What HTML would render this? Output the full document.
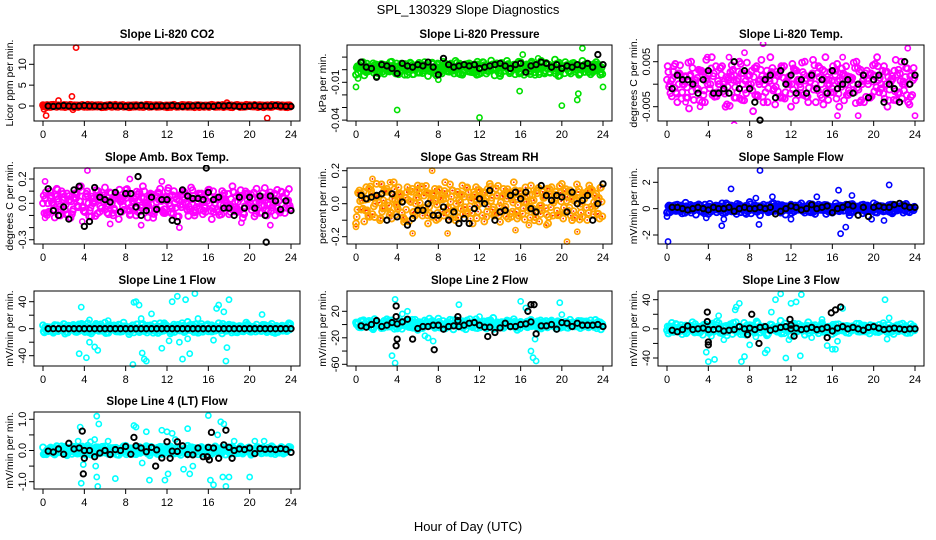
<!DOCTYPE html>
<html><head><meta charset="utf-8"><title>SPL_130329 Slope Diagnostics</title>
<style>
html,body{margin:0;padding:0;background:#fff;}
svg{display:block;font-family:"Liberation Sans",Arial,sans-serif;}
</style></head>
<body>
<svg id="chart" width="936" height="540" viewBox="0 0 936 540" xmlns="http://www.w3.org/2000/svg">
<text x="468" y="14" text-anchor="middle" font-size="13">SPL_130329  Slope Diagnostics</text>
<text x="468" y="531" text-anchor="middle" font-size="13">Hour of Day (UTC)</text>
</svg>
<script>
// ---- data ----
const xTicks = [0,4,8,12,16,20,24];
const titles = ["Slope Li-820 CO2","Slope Li-820 Pressure","Slope Li-820 Temp.","Slope Amb. Box Temp.","Slope Gas Stream RH","Slope Sample Flow","Slope Line 1 Flow","Slope Line 2 Flow","Slope Line 3 Flow","Slope Line 4 (LT) Flow"];
const yTitles = ["Licor ppm per min.","kPa per min.","degrees C per min.","degrees C per min.","percent per min.","mV/min per min.","mV/min per min.","mV/min per min.","mV/min per min.","mV/min per min."];

const cCO2 = [0.2,-0.3,0.1,0.3,-0.2,0,0.2,-0.1,0.3,-0.3,0.1,0,-0.2,0.3,0.1,-0.1,0.2,-0.3,0,0.1,-0.2,0.3,-0.1,0.2,0,-0.3,0.1,0.2,-0.2,0,0.3,-0.1,0.1,-0.2,0.2,0,-0.3,0.1,0.3,-0.1,0,0.2,-0.2,0.1,-0.3,0.2,0,0.1,-0.1,0.3,-0.2,0,0.2,-0.1,0.1,-0.3,0.2,0,-0.2,0.3,0.1,-0.1,0,0.2,-0.3,0.1,-0.1,0.2,0,-0.2,0.1,-0.3];
const kCO2 = [0,-0.1,0,0.1,0,-0.1,0,0.1,0,0,-0.1,0,0.1,0,0,-0.1,0,0,0.1,0,-0.1,0,0,0,0.1,0,-0.1,0,0,0.1,0,0,-0.1,0.1,0,0.1,0,-0.1,-0.1,0,0.1,-0.1,0,0,0.1,0,-0.1,-0.1];
const oCO2 = [0.1,-0.8, 0.3,-2.3, 1.5,1.3, 2.8,2.3, 2.9,-0.9, 3.2,14, 17.8,0.8, 21.7,-2.9, 1.2,0.3];

const cPres = [-0.004,0.003,0.006,-0.002,0.001,0.005,-0.005,0.002,0.004,-0.001,0.006,0,-0.003,0.004,0.002,-0.004,0.005,0.001,-0.002,0.003,0.006,-0.005,0.002,0,0.004,-0.003,0.005,0.001,-0.001,0.007,0.003,-0.004,0.002,0.005,-0.002,0.004,0,0.006,-0.003,0.003,0.001,0.005,-0.005,0.002,0.007,-0.001,0.004,0,0.006,-0.004,0.003,0.005,-0.002,0.001,0.007,-0.003,0.004,0.002,0.008,-0.005,0.003,0.006,-0.001,0.005,0.002,-0.004,0.007,0.001,0.004,-0.002,0.006,0.003];
const kPres = [0.006,0.002,0.001,-0.006,0.004,0.003,0.001,-0.003,0.005,0.003,0.002,0.004,0.003,0.006,0.002,-0.004,0.009,0.004,0.002,0.003,0.004,0.003,0.004,0.001,0.002,0.003,0.004,0.005,0.003,0.001,0.004,0.005,-0.002,0.003,0.004,0.006,0.005,0.002,0.004,0.001,0.003,0.002,0.004,0.003,0.005,0.002,0.012,0.004];
const oPres = [0,-0.0137, 4,-0.032, 12,-0.038, 20,-0.0285, 22,0.017, 24,-0.0137, 15.9,-0.017, 21.5,-0.024, 21.6,-0.019, 0.2,-0.007, 8,-0.008, 16.2,0.012, 17.7,0.009, 5.5,-0.004];

const cTemp = [0.001,-0.002,0.004,-0.004,0.002,0,-0.003,0.005,0.001,-0.001,0.003,-0.004,0.002,0.006,-0.002,0,0.004,-0.005,0.001,0.003,-0.003,0.005,0,-0.002,0.002,-0.006,0.004,0.001,-0.004,0.003,0.006,-0.001,0.002,-0.003,0.004,0,-0.005,0.003,0.001,-0.002,0.005,-0.004,0.002,0,0.004,-0.003,0.006,0.001,-0.001,0.003,-0.005,0.002,0.004,-0.002,0,0.005,-0.004,0.001,0.003,-0.003,0.002,0.006,-0.001,0.004,-0.005,0.001,0.003,-0.002,0.005,0,-0.004,0.002];
const kTemp = [-0.001,0.002,0.001,0.001,0.000,-0.002,0.001,0.003,-0.002,-0.002,-0.001,-0.002,0.005,-0.001,0.003,-0.001,-0.004,-0.008,0.001,0.002,-0.003,0.003,0.000,0.002,-0.002,0.001,-0.002,0.002,-0.001,0.001,-0.002,0.003,-0.001,0.000,0.001,-0.002,0.000,0.002,-0.003,0.001,0.002,-0.004,0.000,-0.001,-0.004,0.005,0.000,0.002];
const oTemp = [9.3,0.009, 7.5,0.007, 6.5,-0.009, 17,0.006, 23.3,0.008, 16.5,-0.007, 24,-0.007, 18.5,-0.007, 3.2,-0.005, 1.8,-0.004, 3.9,0.006, 6,0.006];

const cAmb = [0.0,-0.08,0.1,-0.05,0.12,-0.1,0.03,0.08,-0.12,0.05,-0.02,0.14,-0.07,0.06,-0.11,0.02,0.1,-0.04,0.13,-0.09,0.0,0.07,-0.13,0.04,0.11,-0.06,0.02,-0.1,0.09,0.14,-0.03,0.06,-0.12,0.01,0.12,-0.08,0.05,-0.02,0.1,-0.11,0.07,0.03,-0.06,0.13,-0.1,0.0,0.08,-0.04,0.11,-0.13,0.04,-0.07,0.1,0.02,-0.09,0.14,-0.05,0.06,-0.12,0.08,0.01,-0.03,0.12,-0.08,0.05,-0.1,0.09,0.0,0.11,-0.06,0.04,-0.02];
const kAmb = [0.12,-0.06,-0.1,-0.03,-0.13,0.11,0.14,-0.19,-0.15,0.13,0.05,0.03,0.01,0.09,-0.07,0.08,0.08,-0.03,-0.1,-0.06,0.05,-0.05,0.03,0.03,-0.14,-0.15,0.11,0.06,0.04,0.04,0.03,0.09,0.03,0.05,-0.04,-0.04,-0.1,0.05,-0.04,0.05,-0.04,0.06,-0.1,0.06,0.02,-0.05,0.02,-0.06];
const oAmb = [4.3,0.27, 0.2,0.18, 0.2,-0.12, 8.4,0.2, 13.2,-0.2, 9.5,-0.18, 3.8,-0.15, 22,-0.18, 19.2,-0.16, 11.5,0.18, 6.5,-0.17];
const okAmb = [15.8,0.29, 21.6,-0.32, 9.2,0.22];

const cRH = [-0.12,0.08,-0.03,0.1,-0.08,0.04,0.12,-0.1,0.02,0.09,-0.05,0.13,-0.02,0.06,-0.11,0.1,0.01,-0.07,0.11,-0.04,0.07,-0.12,0.03,0.09,-0.09,0.05,0.13,-0.03,0.08,-0.1,0.02,0.11,-0.06,0.04,-0.12,0.1,0.0,0.07,-0.08,0.12,-0.02,0.05,-0.11,0.09,0.03,-0.06,0.13,-0.09,0.06,0.01,-0.04,0.11,-0.1,0.08,-0.01,0.04,-0.12,0.1,0.02,-0.07,0.12,-0.05,0.07,-0.1,0.03,0.09,-0.08,0.05,0.11,-0.03,0.06,-0.09];
const kRH = [0.05,0.03,0.04,0.05,0.06,-0.1,0.06,-0.08,0.01,-0.13,-0.09,-0.04,-0.04,0.0,-0.07,-0.07,-0.02,-0.1,-0.05,-0.12,-0.09,-0.12,-0.03,0.03,0.0,0.08,-0.1,-0.05,-0.04,0.05,0.07,0.03,0.07,-0.03,-0.05,0.11,0.05,0.02,0.05,0.04,-0.05,0.07,0.0,0.02,0.05,-0.1,0.0,0.12];
const oRH = [7.4,0.2, 1.6,0.15, 5.5,-0.18, 8.9,-0.18, 15.5,-0.16, 16.8,-0.13, 18.5,-0.13, 20.5,-0.23, 21.5,-0.17, 2.5,0.12, 0,-0.14, 3.3,0.13];

const cSamp = [-0.3,0.2,-0.1,0.3,-0.2,0.1,0.0,-0.3,0.2,0.1,-0.2,0.3,-0.4,0.1,0.2,-0.1,0.4,-0.3,0.0,0.2,-0.2,0.3,0.1,-0.4,0.5,-0.1,0.2,-0.5,0.3,0.0,-0.2,0.4,0.1,-0.3,0.2,-0.1,0.3,-0.2,0.0,0.4,-0.3,0.1,0.2,-0.4,0.3,-0.1,0.2,0.0,-0.3,0.4,-0.2,0.1,0.3,-0.5,0.2,0.0,-0.1,0.3,-0.2,0.1,0.4,-0.3,0.2,-0.1,0.0,0.3,-0.2,0.1,0.2,-0.1,0.1,0.0];
const kSamp = [0.1,0.1,0,-0.1,0,0.1,0,-0.1,0.1,0,0,0.1,-0.2,0,0.1,0,0,0.1,0,0.1,-0.4,-0.2,0,0.2,0.1,-0.1,0,0.3,0,0.1,0.2,-0.3,0,0.1,0.3,0.2,-0.5,0.1,-0.6,0.1,0.2,0.1,0.1,0.3,0.4,0.2,0.1,0.1];
const oSamp = [0.1,-2.5, 9,2.9, 21.5,1.8, 6.2,1.5, 16.8,-1.9, 17.3,-1.4, 5.3,-1.3, 5.5,-0.8, 16.6,1.4, 8.9,-1.2, 10.2,0.9, 19.8,-0.8, 21,-0.9, 0,-0.6, 3.8,-0.7, 12,-0.8, 8.6,0.8, 14.5,0.9, 17.9,1.0];

const cL1 = [5,-3,2,-6,4,-1,7,-5,3,0,-4,6,-2,8,-7,1,5,-3,9,-6,2,-1,6,-4,3,-8,5,0,-5,7,-2,4,-6,1,8,-3,2,-7,6,-1,4,-5,10,-2,3,-6,7,0,-4,5,-3,8,-7,2,6,-1,-5,4,-2,9,-4,1,6,-3,2,-5,4,-1,3,-2,1,0];
const kL1 = [0,0,0,0,0,0,0,0,0,0,0,0,0,0,0,0,0,0,0,0,0,0,0,0,0,0,0,0,0,0,0,0,0,0,0,0,0,0,0,0,0,0,0,0,0,0,0,0];
const oL1 = [3.7,32, 3.5,-37, 4.2,-43, 4.5,-20, 5,-27, 5.3,-32, 8.7,-53, 8.8,39, 9,40, 9.3,35, 9.6,-36, 9.8,-45, 10,-48, 10.5,22, 11.5,-29, 12.5,40, 13,48, 13.2,-20, 13.5,-45, 13.8,43, 14.2,-37, 14.7,52, 15,15, 16.5,-17, 16.8,30, 17,35, 17.5,25, 17.7,-48, 17.8,-28, 18,43, 21.2,21, 4.5,13, 6.3,12, 12.2,-18, 14,-15, 9.5,15];

const cL2 = [3,-4,6,-2,1,-7,4,0,-5,8,-3,2,-6,5,-1,7,-4,3,-8,1,6,-2,4,-5,9,-1,-6,3,0,7,-3,5,-7,2,-4,8,-1,4,-6,3,10,-2,1,-5,6,-3,8,-8,4,0,-4,7,-2,5,-6,3,-1,6,-3,2,-4,4,-1,3,-2,2,-1,1,0,2,-1,0];
const kL2 = [-2,-4,0,6,-3,-1,3,1,4,8,-22,-6,-3,-3,-1,-1,-7,-3,-2,-3,-1,2,3,-1,-4,-4,-12,-5,2,-3,-3,0,1,4,-14,-2,-2,0,-7,3,2,-3,2,-1,-1,-1,0,-3];
const oL2 = [3.8,38, 3.5,-47, 3.8,-58, 5,20, 7.5,-25, 10,30, 16,35, 17,-40, 17.2,-50, 17.5,-55, 17.4,-22, 19.8,33, 20,15, 6.7,-17, 7,-20, 16.5,25, 12,12, 4.5,16];
const okL2 = [3.9,28, 3.9,12, 4,-22, 3.9,-32, 7.6,-38, 16.7,20, 17,30, 17.3,30, 12.8,-18, 9.9,12, 9.9,6];

const cL3 = [-2,3,-4,1,5,-3,0,4,-5,2,-1,6,-4,3,-2,8,-6,1,4,-7,9,-3,2,-8,5,-1,10,-5,3,-9,6,0,-4,11,-6,2,-10,7,-2,4,-8,9,-3,5,-6,8,-1,3,-7,6,-2,4,-5,3,-1,7,-4,2,-3,5,-2,1,-3,4,-1,2,-2,3,-1,1,0,1];
const kL3 = [-2,-4,-1,4,-1,0,1,-1,-1,0,-3,-2,-1,3,0,1,-1,2,3,-2,0,2,3,0,1,-1,0,2,-1,0,2,-3,1,3,0,2,0,-2,2,3,1,-1,0,1,0,-1,0,0];
const oL3 = [4,-45, 3.8,-32, 4.3,-10, 4.6,-42, 5,18, 5.5,-15, 6.7,30, 7,35, 6.6,26, 7.2,-45, 7.5,-38, 8,-22, 9.5,-33, 9.7,-29, 10.1,23, 10.5,40, 11,48, 11.5,-40, 11.8,-15, 12,35, 12.5,37, 13,47, 12.9,-37, 14,-12, 15.5,-23, 16,-28, 16.3,-28, 16.5,-17, 15,13, 17,28, 21.1,40, 21.5,15, 21.3,-14, 8.6,-11];
const okL3 = [3.9,23, 3.9,10, 4,-18, 4,-22, 8.9,-20, 11.9,13, 12,5, 7.8,-8, 12.3,-10, 15.9,22, 16.3,26, 16.8,30, 15.5,-12, 8.2,20];

const cL4 = [0.1,-0.12,0.05,-0.08,0.14,-0.03,0.09,-0.15,0.02,0.12,-0.1,0.06,-0.05,0.15,-0.13,0.03,0.1,-0.07,0.13,-0.11,0.0,0.08,-0.14,0.05,0.15,-0.09,0.02,-0.12,0.11,-0.04,0.14,-0.15,0.07,-0.02,0.12,-0.1,0.04,0.13,-0.08,0.09,-0.14,0.01,0.15,-0.06,0.08,-0.12,0.11,-0.03,0.06,-0.11,0.13,-0.05,0.1,-0.13,0.04,0.12,-0.09,0.07,-0.1,0.05,0.08,-0.06,0.09,-0.04,0.06,-0.07,0.05,-0.03,0.04,-0.05,0.03,0.02];
const kL4 = [-0.02,-0.05,0.05,-0.12,0.23,0.05,0.08,0.0,0.0,-0.2,-0.08,0.0,-0.13,0.03,0.0,0.13,-0.12,0.15,0.08,-0.04,0.1,0.02,-0.24,0.28,-0.02,-0.03,0.15,-0.13,-0.14,0.08,-0.2,0.1,0.08,-0.25,0.18,0.1,0.0,0.05,0.03,0.08,-0.1,0.06,0.04,0.05,0.03,0.06,0.04,-0.06];
const oL4 = [3.6,0.75, 3.7,-1.05, 3.9,-0.45, 4.6,0.28, 5,0.35, 5.2,1.1, 5.4,0.85, 5.1,-0.5, 5.2,-0.85, 5.3,-1.15, 6.3,0.3, 7,-0.9, 8.8,0.8, 9,0.75, 9.6,-0.4, 10,0.6, 10.3,-0.95, 11.5,0.65, 12,0.6, 12.5,0.55, 12.1,-0.75, 11.8,-0.95, 12.8,0.35, 13.6,-0.6, 14,0.7, 14.5,-0.5, 14.2,-0.75, 16,1.12, 16.2,-0.95, 16.5,-1.1, 16.9,0.5, 17.2,0.92, 17.5,0.85, 17.4,-0.85, 17.7,-1.15, 18,-0.85, 18.5,0.3, 20,-0.85, 20.5,0.3, 21.4,0.3, 3.4,0.3];
const okL4 = [3.8,0.62, 3.9,-0.75, 4,-0.25, 10.9,-0.5, 8.8,0.42, 13,0.28, 16.1,-0.3, 16.3,0.58, 17.7,0.65, 18.3,-0.25, 12.3,-0.25, 15.9,-0.2];

// ---- layout ----
const colL=[34,347,658], colR=[300,612,924];
const rowT=[45,168,291,412], rowB=[121,244,366,489];
const panels = [
 [0,0, 0,106, 10,64.3, [0,5,10],[0,5,10], "#ff0000", cCO2,kCO2,oCO2,[]],
 [1,0, -0.01,82.3, -0.04,120.1, [0.01,0,-0.01,-0.02,-0.03,-0.04],["","","-0.01","","","-0.04"], "#00e000", cPres,kPres,oPres,[]],
 [2,0, 0.005,61.7, -0.005,106.7, [0.005,0,-0.005],["0.005","","-0.005"], "#ff00ff", cTemp,kTemp,oTemp,[]],
 [0,1, 0.2,179, 0,203.3, [0.2,0.1,0,-0.1,-0.2,-0.3],["0.2","","0.0","","","-0.3"], "#ff00ff", cAmb,kAmb,oAmb,okAmb],
 [1,1, 0.2,170.7, -0.2,236.7, [0.2,0.1,0,-0.1,-0.2],["0.2","","0.0","","-0.2"], "#ffa500", cRH,kRH,oRH,[]],
 [2,1, 2,182.3, -2,235, [2,0,-2],["2","0","-2"], "#0000ff", cSamp,kSamp,oSamp,[]],
 [0,2, 40,301.7, -40,355.7, [40,20,0,-20,-40],["40","","0","","-40"], "#00ffff", cL1,kL1,oL1,[]],
 [1,2, 20,311.3, -60,364.3, [20,0,-20,-40,-60],["20","","-20","","-60"], "#00ffff", cL2,kL2,oL2,okL2],
 [2,2, 40,299.7, -40,358, [40,20,0,-20,-40],["40","","0","","-40"], "#00ffff", cL3,kL3,oL3,okL3],
 [0,3, 1,419.3, -1,481.7, [1,0.5,0,-0.5,-1],["1.0","","0.0","","-1.0"], "#00ffff", cL4,kL4,oL4,okL4]
];
// extra passes over the colored series for density (index shift, scale)
const passShift=[0,7,19,31,43];
const passScale=[1,0.8,0.9,0.6,0.7];

const NS="http://www.w3.org/2000/svg";
const svg=document.getElementById('chart');
function mk(tag,attrs,parent){const e=document.createElementNS(NS,tag);for(const k in attrs)e.setAttribute(k,attrs[k]);(parent||svg).appendChild(e);return e;}

panels.forEach((p,pi)=>{
  const [c,r,v1,p1,v2,p2,ticks,labels,color,cData,kData,oC,oK]=p;
  const L=colL[c],R=colR[c],T=rowT[r],B=rowB[r];
  const xs=h=>L+9+(R-L-18)*h/24;
  const ys=v=>p1+(v-v1)*(p2-p1)/(v2-v1);
  const g=mk('g',{});
  
  
  const t=mk('text',{x:(L+R)/2,y:T-7,'text-anchor':'middle','font-size':11.5,'font-weight':'bold'},g);
  t.textContent=titles[pi];
  
  
  const yt=mk('text',{x:0,y:0,'text-anchor':'middle','font-size':10.5,transform:`translate(${L-21},${(T+B)/2}) rotate(-90)`},g);
  yt.textContent=yTitles[pi];
  
  
  const xa=mk('g',{},g);
  
  
  mk('line',{x1:xs(0),x2:xs(24),y1:B,y2:B,stroke:'#000'},xa);
  xTicks.forEach(h=>{
    mk('line',{x1:xs(h),x2:xs(h),y1:B,y2:B+5,stroke:'#000'},xa);
    const tl=mk('text',{x:xs(h),y:B+17,'text-anchor':'middle','font-size':11},xa);
    tl.textContent=h;
    
    
  });
  const ya=mk('g',{},g);
  
  
  mk('line',{x1:L,x2:L,y1:ys(ticks[0]),y2:ys(ticks[ticks.length-1]),stroke:'#000'},ya);
  ticks.forEach((v,i)=>{
    const y=ys(v);
    mk('line',{x1:L-5,x2:L,y1:y,y2:y,stroke:'#000'},ya);
    if(labels[i]!==""){
      const tl=mk('text',{x:0,y:0,'text-anchor':'middle','font-size':11,transform:`translate(${L-8},${y}) rotate(-90)`},ya);
      tl.textContent=labels[i];
      
      
    }
  });
  const cp=mk('clipPath',{id:'cp'+pi},g);
  mk('rect',{x:L,y:T-3,width:R-L,height:B-T+6},cp);
  const pts=mk('g',{'clip-path':`url(#cp${pi})`},g);
  
  
  const inner = color==="#ffa500" ? "#ff2000" : null;
  function dot(h,v,col,sw,rr){
    const e=mk('circle',{cx:xs(h),cy:ys(v),r:rr,fill:'none',stroke:col,'stroke-width':sw},pts);
    
    
    if(inner){const d=mk('circle',{cx:xs(h),cy:ys(v),r:0.9,fill:inner},pts);
      
      }
  }
  const n=cData.length;
  passShift.forEach((s,k)=>{
    cData.forEach((v,i)=>dot(i/3+k/15,cData[(i+s)%n]*passScale[k],color,1.8,3));
  });
  for(let i=0;i<oC.length;i+=2)dot(oC[i],oC[i+1],color,1.6,2.6);
  const kg=(h,v)=>{const e=mk('circle',{cx:xs(h),cy:ys(v),r:2.7,fill:'none',stroke:'#000','stroke-width':1.9},pts);
    
    };
  kData.forEach((v,i)=>kg(0.5*(i+1),v));
  for(let i=0;i<oK.length;i+=2)kg(oK[i],oK[i+1]);
  const box=mk('rect',{x:L,y:T,width:R-L,height:B-T,fill:'none',stroke:'#000'},g);
  
  
});
</script>
</body></html>
